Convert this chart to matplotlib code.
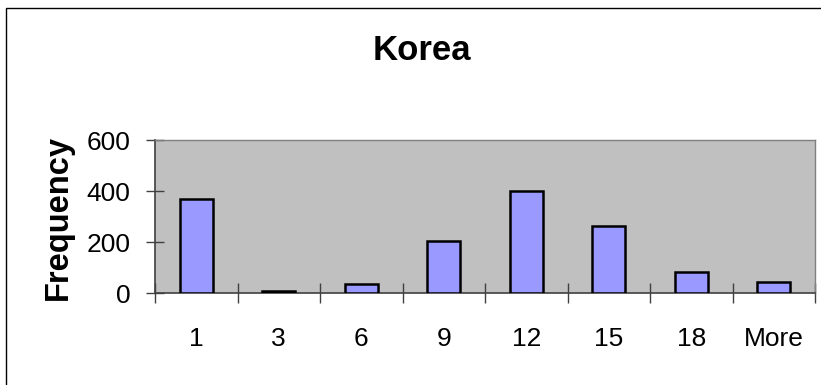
import matplotlib
matplotlib.use("Agg")
import matplotlib.pyplot as plt
from matplotlib.patches import Rectangle
from matplotlib.ticker import FixedLocator, NullFormatter

# Histogram bins and counts
bins = ["1", "3", "6", "9", "12", "15", "18", "More"]
counts = [370, 10, 38, 205, 400, 262, 84, 46]
y_ticks = [0, 200, 400, 600]

plt.rcParams["font.family"] = ["Liberation Sans", "DejaVu Sans"]

W, H = 821, 385
fig = plt.figure(figsize=(W / 100, H / 100), dpi=100)
fig.patch.set_facecolor("white")

# outer chart frame
fig.patches.append(Rectangle((6 / W, -0.1), 2.0, 1 - 8 / H + 0.1,
                             transform=fig.transFigure, fill=False,
                             edgecolor="black", lw=1.0))

left, right = 155 / W, 815 / W
bottom, top = 1 - 293.3 / H, 1 - 140.3 / H
ax = fig.add_axes([left, bottom, right - left, top - bottom])
ax.set_facecolor("#C0C0C0")

x = list(range(len(bins)))
ax.bar(x, counts, width=0.4, color="#9999FF", edgecolor="black", linewidth=1.8,
       zorder=3)

ax.set_xlim(-0.5, len(bins) - 0.5)
ax.set_ylim(0, 600)

for side in ["top", "right"]:
    ax.spines[side].set_color("#808080")
    ax.spines[side].set_linewidth(1.0)
for side in ["left", "bottom"]:
    ax.spines[side].set_color("#404040")
    ax.spines[side].set_linewidth(1.2)

ax.set_yticks(y_ticks)
ax.set_yticklabels([str(v) for v in y_ticks])
ax.tick_params(axis="y", direction="inout", length=13, width=1.0,
               color="#404040", labelsize=19, pad=11)

# category labels centred, tick marks at bin boundaries
ax.set_xticks(x)
ax.set_xticklabels(bins)
ax.tick_params(axis="x", which="major", length=0, labelsize=19, pad=24.5)
ax.xaxis.set_minor_locator(FixedLocator([i - 0.5 for i in range(len(bins) + 1)]))
ax.xaxis.set_minor_formatter(NullFormatter())
ax.tick_params(axis="x", which="minor", direction="inout", length=14.4,
               width=1.0, color="#404040")

fig.text(421.5 / W, 1 - 50 / H, "Korea", ha="center", va="center",
         fontsize=25, fontweight="bold")
fig.text(58 / W, 1 - 218 / H, "Frequency", ha="center", va="center",
         rotation=90, fontsize=23.5, fontweight="bold")

fig.savefig("out.png", dpi=100)
